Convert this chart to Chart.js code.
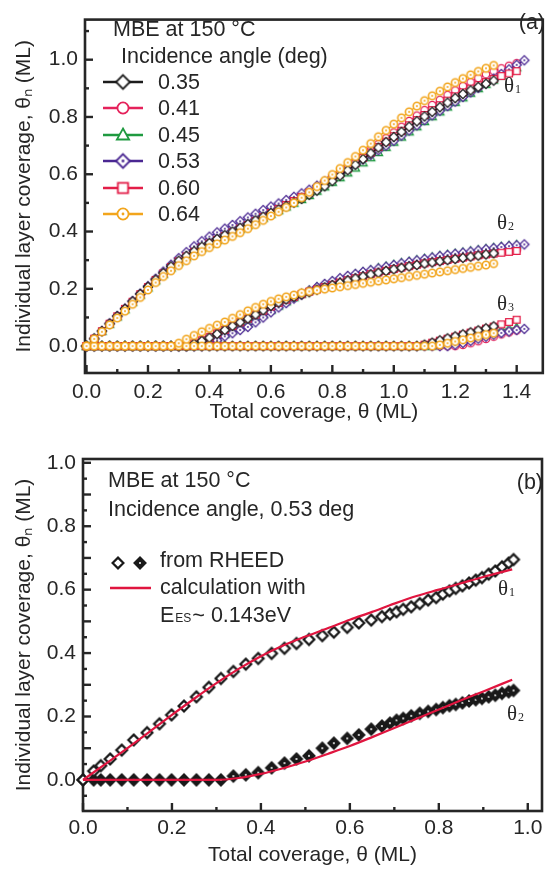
<!DOCTYPE html>
<html>
<head>
<meta charset="utf-8">
<script src="https://cdn.jsdelivr.net/npm/chart.js@4.4.1/dist/chart.umd.min.js"></script>
<style>
  html, body { margin: 0; padding: 0; background: #fff; }
  canvas { position: absolute; left: 0; }
  #top { top: 0; }
  #bot { top: 430px; }
</style>
</head>
<body>
<canvas id="top" width="548" height="430"></canvas>
<canvas id="bot" width="548" height="441"></canvas>
<script>
/* global Chart */
const INK = '#262626';
const SANS = '"Liberation Sans", Arial, sans-serif';
Chart.defaults.font.family = SANS;
Chart.defaults.font.size = 21;
Chart.defaults.color = INK;

// ---- panel (a): total coverage grid, one value per 0.025 ML ----
const X_TOP = [0, 0.025, 0.05, 0.075, 0.1, 0.125, 0.15, 0.175, 0.2, 0.225,
  0.25, 0.275, 0.3, 0.325, 0.35, 0.375, 0.4, 0.425, 0.45, 0.475,
  0.5, 0.525, 0.55, 0.575, 0.6, 0.625, 0.65, 0.675, 0.7, 0.725,
  0.75, 0.775, 0.8, 0.825, 0.85, 0.875, 0.9, 0.925, 0.95, 0.975,
  1.0, 1.025, 1.05, 1.075, 1.1, 1.125, 1.15, 1.175, 1.2, 1.225,
  1.25, 1.275, 1.3, 1.325, 1.35, 1.375, 1.4, 1.425];

// 0.35 deg
const T1_035 = [0, 0.026, 0.052, 0.078, 0.104, 0.13, 0.156, 0.182, 0.207, 0.232,
  0.255, 0.278, 0.298, 0.315, 0.331, 0.347, 0.36, 0.374, 0.387, 0.4,
  0.413, 0.426, 0.439, 0.452, 0.465, 0.477, 0.489, 0.501, 0.514, 0.528,
  0.543, 0.558, 0.576, 0.595, 0.614, 0.633, 0.653, 0.673, 0.693, 0.712,
  0.73, 0.748, 0.766, 0.785, 0.802, 0.818, 0.834, 0.85, 0.866, 0.88,
  0.893, 0.905, 0.916, 0.927];
const T2_035 = [0, 0, 0, 0, 0, 0, 0, 0, 0, 0,
  0, 0, 0, 0, 0.008, 0.018, 0.029, 0.042, 0.056, 0.07,
  0.083, 0.096, 0.11, 0.125, 0.14, 0.152, 0.163, 0.172, 0.18, 0.188,
  0.197, 0.205, 0.213, 0.221, 0.229, 0.236, 0.243, 0.25, 0.256, 0.262,
  0.268, 0.273, 0.278, 0.283, 0.288, 0.292, 0.296, 0.3, 0.304, 0.308,
  0.312, 0.316, 0.32, 0.324];
const T3_035 = [0, 0, 0, 0, 0, 0, 0, 0, 0, 0,
  0, 0, 0, 0, 0, 0, 0, 0, 0, 0,
  0, 0, 0, 0, 0, 0, 0, 0, 0, 0,
  0, 0, 0, 0, 0, 0, 0, 0, 0, 0,
  0, 0, 0, 0, 0.005, 0.012, 0.02, 0.027, 0.034, 0.041,
  0.048, 0.055, 0.062, 0.069];

// 0.41 deg
const T1_041 = [0, 0.026, 0.052, 0.078, 0.103, 0.129, 0.154, 0.18, 0.205, 0.23,
  0.253, 0.275, 0.295, 0.312, 0.328, 0.343, 0.357, 0.37, 0.383, 0.396,
  0.409, 0.422, 0.436, 0.45, 0.464, 0.478, 0.492, 0.507, 0.522, 0.538,
  0.555, 0.572, 0.59, 0.608, 0.627, 0.646, 0.666, 0.686, 0.706, 0.726,
  0.746, 0.766, 0.786, 0.805, 0.824, 0.842, 0.86, 0.877, 0.893, 0.908,
  0.922, 0.936, 0.949, 0.96, 0.97, 0.979, 0.988];
const T2_041 = [0, 0, 0, 0, 0, 0, 0, 0, 0, 0,
  0, 0, 0, 0, 0.01, 0.021, 0.033, 0.046, 0.059, 0.072,
  0.085, 0.098, 0.112, 0.126, 0.14, 0.153, 0.164, 0.174, 0.183, 0.192,
  0.2, 0.208, 0.216, 0.224, 0.232, 0.239, 0.246, 0.253, 0.259, 0.265,
  0.271, 0.276, 0.281, 0.286, 0.291, 0.295, 0.299, 0.303, 0.307, 0.311,
  0.315, 0.319, 0.323, 0.326, 0.329, 0.332, 0.335];
const T3_041 = [0, 0, 0, 0, 0, 0, 0, 0, 0, 0,
  0, 0, 0, 0, 0, 0, 0, 0, 0, 0,
  0, 0, 0, 0, 0, 0, 0, 0, 0, 0,
  0, 0, 0, 0, 0, 0, 0, 0, 0, 0,
  0, 0, 0, 0, 0, 0, 0, 0, 0, 0.004,
  0.01, 0.017, 0.025, 0.033, 0.041, 0.048, 0.055];

// 0.45 deg
const T1_045 = [0, 0.025, 0.051, 0.076, 0.102, 0.127, 0.153, 0.178, 0.203, 0.228,
  0.251, 0.273, 0.293, 0.311, 0.327, 0.342, 0.356, 0.369, 0.382, 0.395,
  0.408, 0.421, 0.434, 0.447, 0.46, 0.473, 0.486, 0.499, 0.512, 0.526,
  0.541, 0.556, 0.572, 0.588, 0.605, 0.622, 0.64, 0.658, 0.676, 0.694,
  0.712, 0.73, 0.748, 0.766, 0.784, 0.801, 0.818, 0.835, 0.851, 0.867,
  0.883, 0.899, 0.914, 0.929, 0.944, 0.958, 0.972];
const T2_045 = [0, 0, 0, 0, 0, 0, 0, 0, 0, 0,
  0, 0, 0, 0, 0, 0.006, 0.016, 0.028, 0.041, 0.054,
  0.067, 0.08, 0.095, 0.11, 0.125, 0.14, 0.155, 0.169, 0.182, 0.194,
  0.205, 0.215, 0.225, 0.234, 0.243, 0.251, 0.258, 0.265, 0.272, 0.278,
  0.284, 0.29, 0.295, 0.3, 0.305, 0.31, 0.315, 0.319, 0.323, 0.327,
  0.331, 0.335, 0.339, 0.343, 0.347, 0.35, 0.353];
const T3_045 = [0, 0, 0, 0, 0, 0, 0, 0, 0, 0,
  0, 0, 0, 0, 0, 0, 0, 0, 0, 0,
  0, 0, 0, 0, 0, 0, 0, 0, 0, 0,
  0, 0, 0, 0, 0, 0, 0, 0, 0, 0,
  0, 0, 0, 0, 0, 0, 0.005, 0.011, 0.018, 0.025,
  0.032, 0.039, 0.046, 0.052, 0.057, 0.061, 0.065];

// 0.53 deg
const T1_053 = [0, 0.026, 0.053, 0.079, 0.105, 0.131, 0.157, 0.183, 0.209, 0.235,
  0.26, 0.284, 0.307, 0.328, 0.348, 0.366, 0.382, 0.397, 0.41, 0.423,
  0.436, 0.449, 0.462, 0.475, 0.487, 0.498, 0.51, 0.521, 0.533, 0.546,
  0.56, 0.574, 0.589, 0.604, 0.62, 0.636, 0.652, 0.668, 0.684, 0.7,
  0.717, 0.735, 0.753, 0.771, 0.789, 0.806, 0.822, 0.838, 0.854, 0.87,
  0.886, 0.902, 0.918, 0.934, 0.95, 0.966, 0.982, 0.998];
const T2_053 = [0, 0, 0, 0, 0, 0, 0, 0, 0, 0,
  0, 0, 0, 0, 0, 0, 0.008, 0.02, 0.034, 0.045,
  0.056, 0.067, 0.083, 0.1, 0.118, 0.135, 0.15, 0.166, 0.18, 0.194,
  0.206, 0.217, 0.227, 0.237, 0.245, 0.252, 0.259, 0.265, 0.271, 0.277,
  0.283, 0.289, 0.294, 0.299, 0.304, 0.309, 0.314, 0.318, 0.322, 0.326,
  0.33, 0.334, 0.338, 0.342, 0.346, 0.349, 0.352, 0.355];
const T3_053 = [0, 0, 0, 0, 0, 0, 0, 0, 0, 0,
  0, 0, 0, 0, 0, 0, 0, 0, 0, 0,
  0, 0, 0, 0, 0, 0, 0, 0, 0, 0,
  0, 0, 0, 0, 0, 0, 0, 0, 0, 0,
  0, 0, 0, 0, 0, 0, 0, 0, 0.005, 0.011,
  0.018, 0.026, 0.033, 0.04, 0.046, 0.051, 0.056, 0.06];

// 0.60 deg
const T1_060 = [0, 0.026, 0.052, 0.078, 0.104, 0.13, 0.155, 0.181, 0.206, 0.231,
  0.254, 0.276, 0.296, 0.313, 0.329, 0.344, 0.358, 0.371, 0.384, 0.397,
  0.41, 0.423, 0.437, 0.451, 0.465, 0.479, 0.493, 0.507, 0.521, 0.536,
  0.552, 0.568, 0.585, 0.602, 0.62, 0.638, 0.657, 0.676, 0.695, 0.714,
  0.733, 0.752, 0.771, 0.789, 0.807, 0.824, 0.841, 0.857, 0.872, 0.886,
  0.899, 0.911, 0.922, 0.933, 0.943, 0.952, 0.96];
const T2_060 = [0, 0, 0, 0, 0, 0, 0, 0, 0, 0,
  0, 0, 0, 0, 0.009, 0.02, 0.031, 0.044, 0.057, 0.07,
  0.083, 0.096, 0.11, 0.124, 0.138, 0.151, 0.162, 0.172, 0.181, 0.19,
  0.198, 0.206, 0.214, 0.222, 0.23, 0.237, 0.244, 0.251, 0.257, 0.263,
  0.269, 0.274, 0.279, 0.284, 0.289, 0.293, 0.297, 0.301, 0.305, 0.309,
  0.313, 0.317, 0.32, 0.323, 0.326, 0.329, 0.332];
const T3_060 = [0, 0, 0, 0, 0, 0, 0, 0, 0, 0,
  0, 0, 0, 0, 0, 0, 0, 0, 0, 0,
  0, 0, 0, 0, 0, 0, 0, 0, 0, 0,
  0, 0, 0, 0, 0, 0, 0, 0, 0, 0,
  0, 0, 0, 0, 0.005, 0.012, 0.019, 0.026, 0.033, 0.04,
  0.047, 0.054, 0.061, 0.068, 0.076, 0.084, 0.092];

// 0.64 deg
const T1_064 = [0, 0.025, 0.05, 0.074, 0.098, 0.122, 0.146, 0.17, 0.196, 0.222,
  0.243, 0.263, 0.281, 0.298, 0.315, 0.33, 0.344, 0.357, 0.37, 0.383,
  0.396, 0.41, 0.424, 0.439, 0.454, 0.469, 0.484, 0.5, 0.518, 0.537,
  0.557, 0.578, 0.599, 0.62, 0.641, 0.662, 0.684, 0.707, 0.731, 0.753,
  0.775, 0.797, 0.818, 0.838, 0.857, 0.874, 0.89, 0.905, 0.92, 0.934,
  0.947, 0.959, 0.97, 0.98];
const T2_064 = [0, 0, 0, 0, 0, 0, 0, 0, 0, 0,
  0, 0, 0.01, 0.024, 0.037, 0.05, 0.062, 0.073, 0.084, 0.097,
  0.11, 0.123, 0.135, 0.146, 0.156, 0.165, 0.172, 0.178, 0.186, 0.191,
  0.195, 0.199, 0.203, 0.207, 0.211, 0.215, 0.219, 0.223, 0.227, 0.231,
  0.235, 0.239, 0.243, 0.247, 0.251, 0.255, 0.259, 0.263, 0.267, 0.271,
  0.275, 0.279, 0.283, 0.288];
const T3_064 = [0, 0, 0, 0, 0, 0, 0, 0, 0, 0,
  0, 0, 0, 0, 0, 0, 0, 0, 0, 0,
  0, 0, 0, 0, 0, 0, 0, 0, 0, 0,
  0, 0, 0, 0, 0, 0, 0, 0, 0, 0,
  0, 0, 0, 0, 0, 0, 0.004, 0.01, 0.016, 0.022,
  0.028, 0.034, 0.04, 0.045];

const ANGLES = ['0.35', '0.41', '0.45', '0.53', '0.60', '0.64'];
const LAYERS = [
  [T1_035, T2_035, T3_035],
  [T1_041, T2_041, T3_041],
  [T1_045, T2_045, T3_045],
  [T1_053, T2_053, T3_053],
  [T1_060, T2_060, T3_060],
  [T1_064, T2_064, T3_064]
];
const COLORS = ['#1c1c1c', '#e5225b', '#1f9a40', '#4a2792', '#e31e48', '#f2a51c'];
const SHAPES = ['diamond', 'circle', 'triangle', 'diamond', 'square', 'circle'];
const DOTS = [false, false, false, true, false, true];
const DRAW_ORDER = [1, 4, 5, 3, 2, 0]; // lower = drawn on top

const TOP_X_LABELS = [0, 0.2, 0.4, 0.6, 0.8, 1.0, 1.2, 1.4];
const TOP_X_MINOR = [0.1, 0.3, 0.5, 0.7, 0.9, 1.1, 1.3];
const TOP_Y_LABELS = [0, 0.2, 0.4, 0.6, 0.8, 1.0];
const TOP_Y_MINOR = [0.1, 0.3, 0.5, 0.7, 0.9, 1.1];

// ---- panel (b): 0.53 deg, RHEED vs calculation ----
const X_BOT = [0, 0.024, 0.04, 0.061, 0.087, 0.114, 0.144, 0.172, 0.199, 0.227,
  0.255, 0.283, 0.31, 0.338, 0.366, 0.394, 0.424, 0.453, 0.48, 0.508,
  0.538, 0.564, 0.594, 0.62, 0.648, 0.672, 0.69, 0.705, 0.72, 0.738,
  0.757, 0.776, 0.794, 0.809, 0.824, 0.838, 0.853, 0.868, 0.883, 0.897,
  0.912, 0.927, 0.942, 0.957, 0.968];
const RHEED_T1 = [0, 0.028, 0.045, 0.066, 0.094, 0.126, 0.149, 0.177, 0.205, 0.233,
  0.262, 0.292, 0.32, 0.342, 0.365, 0.383, 0.399, 0.415, 0.43, 0.443,
  0.455, 0.466, 0.481, 0.495, 0.504, 0.515, 0.523, 0.53, 0.538, 0.546,
  0.556, 0.567, 0.575, 0.586, 0.596, 0.604, 0.612, 0.621, 0.63, 0.638,
  0.649, 0.659, 0.672, 0.684, 0.695];
const RHEED_T2 = [0, 0, 0, 0, 0, 0, 0, 0, 0, 0,
  0, 0, 0, 0.012, 0.016, 0.023, 0.038, 0.053, 0.066, 0.076,
  0.1, 0.116, 0.131, 0.142, 0.16, 0.17, 0.179, 0.188, 0.194, 0.202,
  0.21, 0.216, 0.222, 0.228, 0.234, 0.238, 0.243, 0.249, 0.253, 0.257,
  0.262, 0.267, 0.273, 0.278, 0.282];
const CALC_X = [0, 0.05, 0.1, 0.15, 0.2, 0.25, 0.3, 0.35, 0.4, 0.45,
  0.5, 0.55, 0.6, 0.65, 0.7, 0.75, 0.8, 0.85, 0.9, 0.965];
const CALC_T1 = [0, 0.05, 0.1, 0.152, 0.205, 0.256, 0.305, 0.35, 0.39, 0.424,
  0.452, 0.478, 0.505, 0.53, 0.556, 0.58, 0.6, 0.62, 0.64, 0.664];
const CALC_T2 = [0, 0, 0, 0, 0, 0, 0, 0.006, 0.019, 0.037,
  0.058, 0.082, 0.107, 0.135, 0.164, 0.193, 0.222, 0.251, 0.279, 0.316];

const BOT_X_LABELS = [0, 0.2, 0.4, 0.6, 0.8, 1.0];
const BOT_X_MINOR = [0.1, 0.3, 0.5, 0.7, 0.9];
const BOT_Y_LABELS = [0, 0.2, 0.4, 0.6, 0.8, 1.0];
const BOT_Y_MAJOR = [0, 0.1, 0.2, 0.3, 0.4, 0.5, 0.6, 0.7, 0.8, 0.9, 1.0];
const BOT_Y_MINOR = [-0.05, 0.05, 0.15, 0.25, 0.35, 0.45, 0.55, 0.65, 0.75, 0.85, 0.95];

// ---- helpers ----
function pts(xs, ys) {
  return ys.map((v, i) => ({ x: xs[i], y: v }));
}

function makeMarker(shape, color, r, lw, fill, dot) {
  const s = Math.ceil(2 * r + lw + 3);
  const c = document.createElement('canvas');
  c.width = s; c.height = s;
  const g = c.getContext('2d');
  g.translate(s / 2, s / 2);
  g.beginPath();
  if (shape === 'diamond') {
    g.moveTo(0, -r); g.lineTo(r, 0); g.lineTo(0, r); g.lineTo(-r, 0); g.closePath();
  } else if (shape === 'circle') {
    g.arc(0, 0, r, 0, Math.PI * 2);
  } else if (shape === 'square') {
    g.rect(-r, -r, 2 * r, 2 * r);
  } else {
    g.moveTo(0, -r); g.lineTo(r * 0.95, r * 0.7); g.lineTo(-r * 0.95, r * 0.7); g.closePath();
  }
  g.fillStyle = fill; g.fill();
  g.lineWidth = lw; g.strokeStyle = color; g.stroke();
  if (dot) {
    g.beginPath(); g.arc(0, 0, dot.r, 0, Math.PI * 2);
    g.fillStyle = dot.color; g.fill();
  }
  return c;
}

const SIZE = { diamond: 4.6, circle: 3.7, triangle: 4.3, square: 3.4 };
const plotMarkers = SHAPES.map((sh, k) => makeMarker(sh, COLORS[k], SIZE[sh], k === 5 ? 1.6 : 1.3, '#fff',
  DOTS[k] ? { r: 1, color: COLORS[k] } : null));
const legendMarkers = SHAPES.map((sh, k) => makeMarker(sh, COLORS[k], SIZE[sh] * 1.5, 1.8, '#fff',
  DOTS[k] ? { r: 1.4, color: COLORS[k] } : null));

function frameTicks(spec) {
  return {
    id: 'frameTicks',
    beforeDatasetsDraw(chart) {
      const { ctx, chartArea: a, scales: { x, y } } = chart;
      ctx.save();
      ctx.strokeStyle = INK;
      ctx.lineWidth = 2.6;
      ctx.strokeRect(a.left, a.top, a.right - a.left, a.bottom - a.top);
      const tick = (axis, vals, len) => vals.forEach(v => {
        ctx.beginPath();
        if (axis === 'x') {
          const px = x.getPixelForValue(v);
          ctx.moveTo(px, a.bottom); ctx.lineTo(px, a.bottom - len);
        } else {
          const py = y.getPixelForValue(v);
          ctx.moveTo(a.left, py); ctx.lineTo(a.left + len, py);
        }
        ctx.stroke();
      });
      ctx.lineWidth = 2.4;
      tick('x', spec.xMajor, 8); tick('x', spec.xMinor, 4);
      tick('y', spec.yMajor, 8); tick('y', spec.yMinor, 4);
      ctx.restore();
    }
  };
}

function subText(ctx, x, y, main, sub, font, subFont, dy) {
  ctx.font = font;
  ctx.fillText(main, x, y);
  const w = ctx.measureText(main).width;
  ctx.font = subFont;
  ctx.fillText(sub, x + w + 1, y + dy);
  return x + w + 1 + ctx.measureText(sub).width;
}

function scales(o) {
  return {
    x: {
      type: 'linear', min: o.xMin, max: o.xMax,
      grid: { display: false, drawTicks: false, tickLength: 0 },
      border: { display: false },
      afterBuildTicks: s => { s.ticks = o.xLabels.map(v => ({ value: v })); },
      afterFit: s => { s.height = o.xH; },
      ticks: { padding: o.xPad, maxRotation: 0, autoSkip: false, callback: v => v.toFixed(1), color: INK },
      title: { display: true, text: 'Total coverage, θ (ML)', color: INK, padding: { top: 0, bottom: o.xTitlePad } }
    },
    y: {
      type: 'linear', min: o.yMin, max: o.yMax,
      grid: { display: false, drawTicks: false, tickLength: 0 },
      border: { display: false },
      afterBuildTicks: s => { s.ticks = o.yLabels.map(v => ({ value: v })); },
      afterFit: s => { s.width = o.yW; },
      ticks: { padding: 7, autoSkip: false, callback: v => v.toFixed(1), color: INK },
      title: { display: true, text: 'Individual layer coverage, θₙ (ML)', color: INK, padding: { top: 12, bottom: 0 } }
    }
  };
}

const common = {
  responsive: false,
  animation: false,
  events: [],
  plugins: { legend: { display: false }, tooltip: { enabled: false } }
};

// ---- panel (a) ----
const topSets = [];
LAYERS.forEach((layers, k) => {
  layers.forEach(ys => {
    topSets.push({
      data: pts(X_TOP, ys),
      showLine: true,
      borderColor: COLORS[k],
      borderWidth: 1.2,
      pointStyle: plotMarkers[k],
      pointRadius: 4,
      order: DRAW_ORDER[k],
      clip: false
    });
  });
});

const LEG_FONT = '21.5px ' + SANS;
const SERIF = '21px "Liberation Serif", "Times New Roman", serif';
const SERIF_SUB = '12px "Liberation Serif", "Times New Roman", serif';

const topText = {
  id: 'topText',
  afterDraw(chart) {
    const ctx = chart.ctx;
    ctx.save();
    ctx.fillStyle = INK;
    ctx.font = LEG_FONT;
    ctx.textBaseline = 'alphabetic';
    ctx.fillText('MBE at 150 °C', 113, 36);
    ctx.fillText('Incidence angle (deg)', 121, 63);
    ctx.textAlign = 'right';
    ctx.fillText('(a)', 545, 29);
    ctx.textAlign = 'left';
    const rows = [82, 108, 135, 161, 188, 214];
    ANGLES.forEach((lab, k) => {
      const yy = rows[k];
      ctx.strokeStyle = COLORS[k];
      ctx.lineWidth = 2.6;
      ctx.beginPath(); ctx.moveTo(103, yy); ctx.lineTo(143, yy); ctx.stroke();
      const m = legendMarkers[k];
      ctx.drawImage(m, 123 - m.width / 2, yy - m.height / 2);
      ctx.fillStyle = INK;
      ctx.textBaseline = 'middle';
      ctx.font = LEG_FONT;
      ctx.fillText(lab, 158, yy + 1);
    });
    ctx.textBaseline = 'alphabetic';
    ctx.fillStyle = INK;
    subText(ctx, 504, 92, 'θ', '1', SERIF, SERIF_SUB, 1);
    subText(ctx, 497, 229, 'θ', '2', SERIF, SERIF_SUB, 1);
    subText(ctx, 497, 310, 'θ', '3', SERIF, SERIF_SUB, 1);
    ctx.restore();
  }
};

new Chart(document.getElementById('top'), {
  type: 'scatter',
  data: { datasets: topSets },
  options: Object.assign({}, common, {
    layout: { padding: { top: 6, right: 2, bottom: 0, left: 0 } },
    scales: scales({
      xMin: -0.005, xMax: 1.485, yMin: -0.094, yMax: 1.14,
      xLabels: TOP_X_LABELS, yLabels: TOP_Y_LABELS,
      xH: 57, yW: 85, xPad: 7, xTitlePad: 5
    })
  }),
  plugins: [frameTicks({ xMajor: TOP_X_LABELS, xMinor: TOP_X_MINOR, yMajor: TOP_Y_LABELS, yMinor: TOP_Y_MINOR }), topText]
});

// ---- panel (b) ----
const openDiamond = makeMarker('diamond', '#1a1a1a', 5.4, 2.2, '#fff', null);
const solidDiamond = makeMarker('diamond', '#1a1a1a', 5.4, 2.2, '#1a1a1a', { r: 1, color: '#fff' });
const CALC_COLOR = '#e0153f';

const botText = {
  id: 'botText',
  afterDraw(chart) {
    const ctx = chart.ctx;
    ctx.save();
    ctx.fillStyle = INK;
    ctx.font = LEG_FONT;
    ctx.textBaseline = 'alphabetic';
    ctx.fillText('MBE at 150 °C', 108, 57);
    ctx.fillText('Incidence angle, 0.53 deg', 108, 86);
    ctx.textAlign = 'right';
    ctx.fillText('(b)', 543, 59);
    ctx.textAlign = 'left';
    ctx.drawImage(openDiamond, 118 - openDiamond.width / 2, 133 - openDiamond.height / 2);
    ctx.drawImage(solidDiamond, 140 - solidDiamond.width / 2, 133 - solidDiamond.height / 2);
    ctx.textBaseline = 'middle';
    ctx.fillText('from RHEED', 160, 131);
    ctx.strokeStyle = CALC_COLOR;
    ctx.lineWidth = 2.4;
    ctx.beginPath(); ctx.moveTo(110, 158); ctx.lineTo(151, 158); ctx.stroke();
    ctx.fillText('calculation with', 160, 158);
    ctx.textBaseline = 'alphabetic';
    const end = subText(ctx, 160, 192, 'E', 'ES', LEG_FONT, '12px ' + SANS, 0);
    ctx.font = LEG_FONT;
    ctx.fillText('~ 0.143eV', end + 1, 192);
    subText(ctx, 498, 165, 'θ', '1', SERIF, SERIF_SUB, 1);
    subText(ctx, 507, 290, 'θ', '2', SERIF, SERIF_SUB, 1);
    ctx.restore();
  }
};

new Chart(document.getElementById('bot'), {
  type: 'scatter',
  data: {
    datasets: [
      { data: pts(CALC_X, CALC_T1), showLine: true, borderColor: CALC_COLOR, borderWidth: 2.2,
        pointRadius: 0, cubicInterpolationMode: 'monotone', order: 0, clip: false },
      { data: pts(CALC_X, CALC_T2), showLine: true, borderColor: CALC_COLOR, borderWidth: 2.2,
        pointRadius: 0, cubicInterpolationMode: 'monotone', order: 0, clip: false },
      { data: pts(X_BOT, RHEED_T1), showLine: false, pointStyle: openDiamond, pointRadius: 5, order: 1, clip: false },
      { data: pts(X_BOT, RHEED_T2), showLine: false, pointStyle: solidDiamond, pointRadius: 5, order: 1, clip: false }
    ]
  },
  options: Object.assign({}, common, {
    layout: { padding: { top: 29, right: 1, bottom: 0, left: 0 } },
    scales: scales({
      xMin: 0, xMax: 1.032, yMin: -0.098, yMax: 1.012,
      xLabels: BOT_X_LABELS, yLabels: BOT_Y_LABELS,
      xH: 60, yW: 83, xPad: 5, xTitlePad: 3
    })
  }),
  plugins: [frameTicks({ xMajor: BOT_X_LABELS, xMinor: BOT_X_MINOR, yMajor: BOT_Y_MAJOR, yMinor: BOT_Y_MINOR }), botText]
});
</script>
</body>
</html>
